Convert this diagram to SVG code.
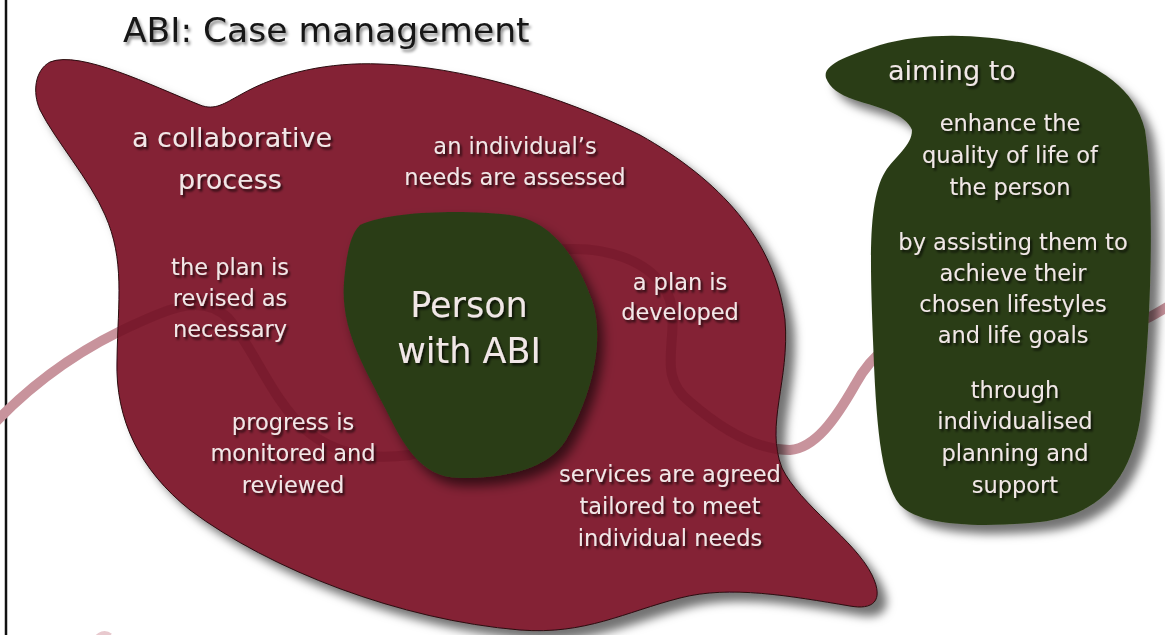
<svg xmlns="http://www.w3.org/2000/svg" width="1165" height="635" viewBox="0 0 1165 635">
<style>
.t{font-family:"DejaVu Sans","Liberation Sans",sans-serif;fill:#f1e7e7;text-anchor:middle;filter:url(#ts)}
.b{font-size:22.5px}
.m{font-size:27px}
.big{font-size:35px}
.title{font-family:"DejaVu Sans","Liberation Sans",sans-serif;font-size:34.5px;fill:#151515;filter:url(#tt)}
.loop{fill:none;stroke:#c8939c;stroke-width:10;stroke-linecap:round}
.loopd{fill:none;stroke:#6e1326;stroke-opacity:.45;stroke-width:10}
</style>
<defs>
<filter id="sh" x="-10%" y="-10%" width="130%" height="130%">
<feDropShadow dx="9" dy="9" stdDeviation="5" flood-color="#000" flood-opacity="0.55"/>
</filter>
<filter id="sh2" x="-10%" y="-10%" width="130%" height="130%">
<feDropShadow dx="6" dy="8" stdDeviation="6" flood-color="#000" flood-opacity="0.6"/>
</filter>
<filter id="ts" x="-10%" y="-20%" width="130%" height="160%">
<feDropShadow dx="2" dy="2.5" stdDeviation="1.2" flood-color="#000" flood-opacity="0.7"/>
</filter>
<filter id="tt" x="-10%" y="-20%" width="130%" height="160%">
<feDropShadow dx="2" dy="3" stdDeviation="1.5" flood-color="#000" flood-opacity="0.45"/>
</filter>
<clipPath id="redclip">
<path id="redp" d="M 50,62 C 80,50 150,85 200,105 C 215,111 225,103 240,95 C 280,72 330,62 380,64 C 460,66 560,95 640,135 C 720,180 775,240 785,320 C 790,380 765,425 782,468 C 800,505 855,540 872,575 C 885,602 872,610 850,606 C 790,596 730,585 680,598 C 625,612 585,635 520,630 C 400,620 270,570 190,510 C 140,470 115,420 117,360 C 118,300 125,260 105,215 C 90,180 55,140 40,110 C 32,92 35,70 50,62 Z"/>
</clipPath>
</defs>
<rect width="1165" height="635" fill="#ffffff"/>
<line x1="6" y1="0" x2="6" y2="635" stroke="#111" stroke-width="2.5"/>

<g id="connectors">
<path class="loop" d="M -10,428 C 30,385 80,348 140,322 C 175,306 205,295 228,318 C 255,350 272,400 306,430 C 335,455 370,460 410,455 C 470,440 500,258 555,250 C 600,245 655,258 670,300 C 680,340 655,375 690,402 C 720,428 755,450 790,450 C 815,448 835,420 855,385 C 900,300 1000,325 1100,330 C 1130,330 1150,318 1175,302"/>
<path d="M 96,640 C 99,634 105,632 110,636" fill="none" stroke="#e8c9ce" stroke-width="6"/>
</g>

<g id="title">
<text class="title" x="123" y="42">ABI: Case management</text>
</g>

<g id="process">
<use href="#redp" fill="#842135" stroke="#2a0a10" stroke-width="1" filter="url(#sh)"/>
<path clip-path="url(#redclip)" class="loopd" d="M -10,428 C 30,385 80,348 140,322 C 175,306 205,295 228,318 C 255,350 272,400 306,430 C 335,455 370,460 410,455 C 470,440 500,258 555,250 C 600,245 655,258 670,300 C 680,340 655,375 690,402 C 720,428 755,450 790,450 C 815,448 835,420 855,385"/>
<text class="t m" x="232" y="147">a collaborative</text>
<text class="t m" x="230" y="189">process</text>
</g>

<g id="assessed">
<text class="t b" x="515" y="154">an individual’s</text>
<text class="t b" x="515" y="185">needs are assessed</text>
</g>

<g id="revised">
<text class="t b" x="230" y="275">the plan is</text>
<text class="t b" x="230" y="306">revised as</text>
<text class="t b" x="230" y="337">necessary</text>
</g>

<g id="developed">
<text class="t b" x="680" y="290">a plan is</text>
<text class="t b" x="680" y="320">developed</text>
</g>

<g id="monitored">
<text class="t b" x="293" y="430">progress is</text>
<text class="t b" x="293" y="461">monitored and</text>
<text class="t b" x="293" y="493">reviewed</text>
</g>

<g id="services">
<text class="t b" x="670" y="482">services are agreed</text>
<text class="t b" x="670" y="514">tailored to meet</text>
<text class="t b" x="670" y="546">individual needs</text>
</g>

<g id="person">
<path d="M 360,225 C 392,210 470,210 510,215 C 552,220 577,258 592,300 C 606,342 590,400 566,440 C 546,472 500,478 460,478 C 420,478 402,442 386,410 C 366,370 340,330 344,282 C 347,252 350,235 360,225 Z" fill="#2c3e19" filter="url(#sh2)"/>
<text class="t big" x="469" y="317">Person</text>
<text class="t big" x="469" y="363">with ABI</text>
</g>

<g id="aims">
<path d="M 826,78 C 822,64 850,55 880,45 C 930,30 1000,34 1050,50 C 1100,66 1135,88 1145,130 C 1156,200 1150,350 1140,420 C 1130,480 1100,515 1040,522 C 980,528 920,526 900,505 C 880,480 876,420 873,340 C 870,260 868,200 885,172 C 895,156 912,146 912,130 C 906,114 880,108 855,100 C 838,94 830,88 826,78 Z" fill="#2c3e19" filter="url(#sh)"/>
<text class="t m" x="888" y="80" style="text-anchor:start">aiming to</text>
<text class="t b" x="1010" y="131">enhance the</text>
<text class="t b" x="1010" y="163">quality of life of</text>
<text class="t b" x="1010" y="195">the person</text>
<text class="t b" x="1013" y="250">by assisting them to</text>
<text class="t b" x="1013" y="281">achieve their</text>
<text class="t b" x="1013" y="312">chosen lifestyles</text>
<text class="t b" x="1013" y="343">and life goals</text>
<text class="t b" x="1015" y="398">through</text>
<text class="t b" x="1015" y="429">individualised</text>
<text class="t b" x="1015" y="461">planning and</text>
<text class="t b" x="1015" y="493">support</text>
</g>
</svg>
